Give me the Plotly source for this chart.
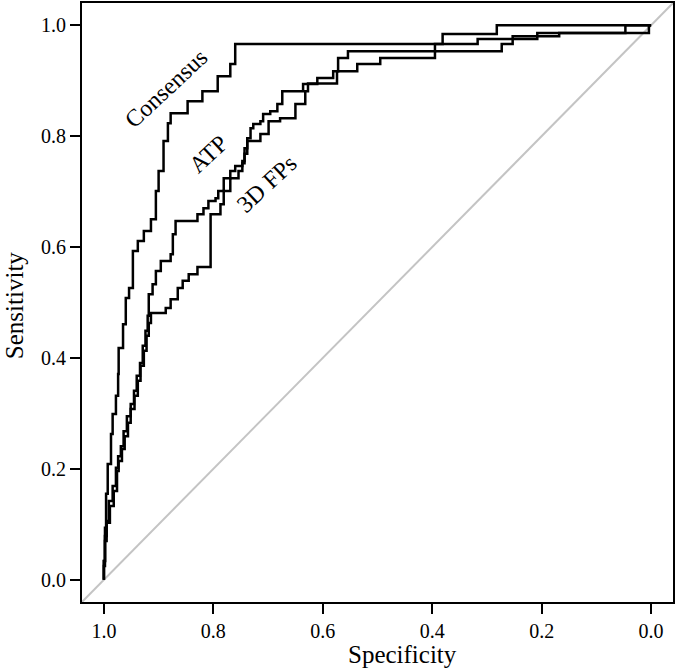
import plotly.graph_objects as go

# ROC curves: specificity (x, reversed) vs sensitivity (y), step points
cons_spec = [1.000, 1.000, 0.998, 0.996, 0.993, 0.987, 0.984, 0.978, 0.974, 0.973, 0.965, 0.960, 0.954, 0.947,
             0.938, 0.927, 0.914, 0.905, 0.900, 0.891, 0.883, 0.878, 0.847, 0.820, 0.792, 0.769, 0.760, 0.381,
             0.282, 0.000]
cons_sens = [0.000, 0.034, 0.094, 0.155, 0.209, 0.263, 0.299, 0.332, 0.371, 0.418, 0.461, 0.508, 0.526, 0.593,
             0.611, 0.629, 0.650, 0.701, 0.737, 0.791, 0.823, 0.841, 0.863, 0.881, 0.908, 0.930, 0.966, 0.984,
             1.000, 1.000]

atp_spec = [1.000, 1.000, 0.998, 0.995, 0.991, 0.984, 0.978, 0.974, 0.969, 0.964, 0.958, 0.951, 0.945, 0.940,
            0.934, 0.929, 0.924, 0.920, 0.918, 0.911, 0.905, 0.896, 0.878, 0.874, 0.869, 0.829, 0.818, 0.809,
            0.796, 0.791, 0.781, 0.769, 0.760, 0.747, 0.743, 0.738, 0.732, 0.727, 0.714, 0.709, 0.696, 0.683,
            0.674, 0.636, 0.610, 0.581, 0.572, 0.554, 0.395, 0.317, 0.208, 0.047, 0.000]
atp_sens = [0.000, 0.034, 0.079, 0.106, 0.142, 0.169, 0.202, 0.223, 0.241, 0.268, 0.295, 0.317, 0.341, 0.368,
            0.391, 0.422, 0.449, 0.476, 0.515, 0.533, 0.557, 0.575, 0.587, 0.623, 0.647, 0.659, 0.670, 0.683,
            0.688, 0.701, 0.724, 0.737, 0.746, 0.755, 0.778, 0.796, 0.814, 0.822, 0.827, 0.840, 0.845, 0.858,
            0.881, 0.894, 0.905, 0.917, 0.941, 0.953, 0.966, 0.975, 0.986, 1.000, 1.000]

fp_spec = [1.000, 1.000, 0.998, 0.995, 0.989, 0.982, 0.976, 0.973, 0.967, 0.962, 0.956, 0.951, 0.944, 0.938,
           0.933, 0.927, 0.922, 0.918, 0.914, 0.887, 0.878, 0.865, 0.856, 0.845, 0.829, 0.805, 0.787, 0.781,
           0.769, 0.754, 0.747, 0.743, 0.738, 0.714, 0.699, 0.678, 0.650, 0.632, 0.627, 0.574, 0.537, 0.495,
           0.395, 0.273, 0.253, 0.168, 0.004, 0.000]
fp_sens = [0.000, 0.025, 0.070, 0.103, 0.133, 0.160, 0.196, 0.214, 0.236, 0.259, 0.283, 0.308, 0.332, 0.359,
           0.386, 0.413, 0.440, 0.463, 0.481, 0.490, 0.506, 0.526, 0.539, 0.551, 0.564, 0.659, 0.677, 0.701,
           0.724, 0.737, 0.751, 0.768, 0.791, 0.804, 0.827, 0.832, 0.858, 0.881, 0.895, 0.917, 0.930, 0.941,
           0.953, 0.966, 0.980, 0.986, 1.000, 1.000]

tick_vals = [0.0, 0.2, 0.4, 0.6, 0.8, 1.0]
tick_text = ["0.0", "0.2", "0.4", "0.6", "0.8", "1.0"]

curve_labels = ["Consensus", "ATP", "3D FPs"]
label_spec = [0.885, 0.809, 0.703]
label_sens = [0.886, 0.768, 0.714]

x_range = [1.04, -0.04]
y_range = [-0.04, 1.04]

FONT = "Liberation Serif, Times New Roman, serif"

fig = go.Figure()

# chance diagonal across whole plot area
fig.add_trace(go.Scatter(x=x_range, y=[1 - v for v in x_range], mode="lines",
                         line=dict(color="#c4c4c4", width=2), hoverinfo="skip", showlegend=False))

for xs, ys, name in [(fp_spec, fp_sens, "3D FPs"), (atp_spec, atp_sens, "ATP"), (cons_spec, cons_sens, "Consensus")]:
    fig.add_trace(go.Scatter(x=xs, y=ys, mode="lines", name=name,
                             line=dict(color="black", width=2.5, shape="hv"), showlegend=False))

for t, sx, sy in zip(curve_labels, label_spec, label_sens):
    fig.add_annotation(x=sx, y=sy, xref="x", yref="y", text=t, showarrow=False, textangle=-43,
                       font=dict(family=FONT, size=24, color="black"), xanchor="center", yanchor="middle")

# axis titles
fig.add_annotation(x=0.5415, y=-0.088, xref="paper", yref="paper", text="Specificity", showarrow=False,
                   font=dict(family=FONT, size=25, color="black"), xanchor="center", yanchor="middle")
fig.add_annotation(x=-0.115, y=0.494, xref="paper", yref="paper", text="Sensitivity", showarrow=False,
                   textangle=-90, font=dict(family=FONT, size=25, color="black"),
                   xanchor="center", yanchor="middle")

axis_common = dict(showgrid=False, zeroline=False, showline=True, mirror=True, linecolor="black",
                   linewidth=2, ticks="outside", ticklen=10, tickwidth=2, tickcolor="black",
                   tickvals=tick_vals, ticktext=tick_text, automargin=False,
                   tickfont=dict(family=FONT, size=20, color="black"))

fig.update_layout(
    width=677, height=672,
    margin=dict(l=82, r=4, t=3, b=70),
    plot_bgcolor="white", paper_bgcolor="white",
    xaxis=dict(range=x_range, **axis_common),
    yaxis=dict(range=y_range, **axis_common),
)

fig.write_html("out.html", config={"displayModeBar": False},
               post_script="document.body.style.margin='0';document.body.style.padding='0';")
